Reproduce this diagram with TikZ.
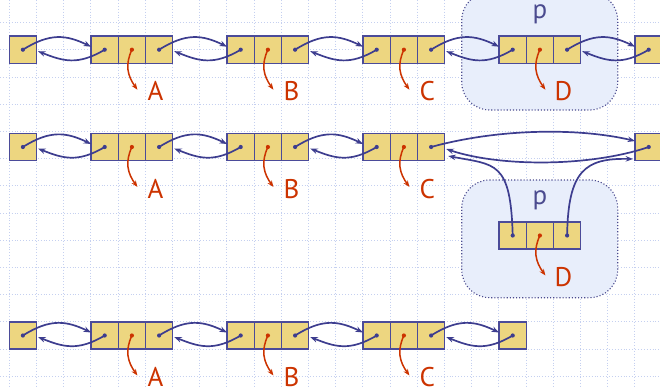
\documentclass[tikz,border=0pt]{standalone}
\usepackage{fontspec}
\setsansfont{PT Sans}
\usetikzlibrary{arrows.meta}
\definecolor{cellfill}{HTML}{EDD680}
\definecolor{cellborder}{HTML}{4B4B99}
\definecolor{linkc}{HTML}{3D3D8F}
\definecolor{redc}{HTML}{CC3300}
\definecolor{pfill}{HTML}{E8EEFB}
\definecolor{pborder}{HTML}{4B4B8F}
\definecolor{gridc}{HTML}{C5D0F0}
\newcommand{\tripcells}[4]{%
  \node[cellbox] (#1a) at (#2+13.6,#3) {};
  \node[cellbox] (#1b) at (#2+40.8,#3) {};
  \node[cellbox] (#1c) at (#2+68,#3) {};
  \fill[linkc] (#1a.center) circle (2.1pt);
  \fill[linkc] (#1c.center) circle (2.1pt);
  \fill[redc] (#1b.center) circle (2.1pt);
  \coordinate (#1tip) at ([shift={(5.5,40)}]#1b.center);
  \draw[redarrow] (#1b.center) .. controls +(-7,15) and +(-10,-14) .. (#1tip);
  \node[lbl, anchor=base] (#1lab) at ([shift={(23.5,51)}]#1b.center) {#4};
}
\newcommand{\onecell}[3]{%
  \node[cellbox] (#1) at (#2+13.6,#3) {};
  \fill[linkc] (#1.center) circle (2.1pt);
}
\newcommand{\fwdlink}[2]{\draw[linkarrow] (#1.center) .. controls +(27,-17) and +(-25,-12) .. ([yshift=3pt]#2.west);}
\newcommand{\bklink}[2]{\draw[linkarrow] (#2.center) .. controls +(-27,16) and +(25,10) .. ([xshift=1.5pt,yshift=-1.5pt]#1.east);}
\begin{document}
\begin{tikzpicture}[x=1pt,y=-1pt,
  cellbox/.style={draw=cellborder, fill=cellfill, line width=1.4pt, minimum size=27.2pt, inner sep=0pt, outer sep=0pt},
  linkarrow/.style={draw=linkc, line width=1.7pt, -{Stealth[length=7.5pt,width=5.5pt]}},
  redarrow/.style={draw=redc, line width=1.5pt, -{Stealth[length=6.5pt,width=5pt]}},
  lbl/.style={text=redc, font=\sffamily\fontsize{27}{30}\selectfont, inner sep=0pt},
  plbl/.style={text=pborder, font=\sffamily\fontsize{27}{30}\selectfont, inner sep=0pt, anchor=base},
  pbox/.style={draw=pborder, fill=pfill, line width=1.1pt, dotted, rounded corners=28pt, inner sep=0pt, outer sep=0pt},
  gridline/.style={draw=gridc, line width=0.9pt, dotted}]
\useasboundingbox (0,0) rectangle (660,388);
% grid
\foreach \k in {0,...,23} { \draw[gridline] (9.3+27.2*\k,0) -- (9.3+27.2*\k,388); }
\foreach \k in {0,...,13} { \draw[gridline] (0,22.7+27.2*\k) -- (660,22.7+27.2*\k); }
% p boxes
\node[pbox, minimum width=156pt, minimum height=117.7pt] (pboxA) at (539.7,51.15) {};
\node[pbox, minimum width=156pt, minimum height=117.7pt] (pboxB) at (539.7,238.85) {};
% row 1
\onecell{r1z}{9.3}{49.7}
\tripcells{r1A}{91.1}{49.7}{A}
\tripcells{r1B}{227.1}{49.7}{B}
\tripcells{r1C}{363.1}{49.7}{C}
\tripcells{r1D}{499.1}{49.7}{D}
\onecell{r1L}{635.1}{49.7}
\node[plbl] (r1p) at ([yshift=31pt]r1Db.center) {p};
\fwdlink{r1z}{r1Aa}\bklink{r1z}{r1Aa}
\fwdlink{r1Ac}{r1Ba}\bklink{r1Ac}{r1Ba}
\fwdlink{r1Bc}{r1Ca}\bklink{r1Bc}{r1Ca}
\fwdlink{r1Cc}{r1Da}\bklink{r1Cc}{r1Da}
\fwdlink{r1Dc}{r1L}\bklink{r1Dc}{r1L}
% row 2
\onecell{r2z}{9.3}{147}
\tripcells{r2A}{91.1}{147}{A}
\tripcells{r2B}{227.1}{147}{B}
\tripcells{r2C}{363.1}{147}{C}
\tripcells{r2D}{499.1}{235.5}{D}
\onecell{r2L}{635.1}{147}
\node[plbl] (r2p) at ([yshift=31pt]r2Db.center) {p};
\fwdlink{r2z}{r2Aa}\bklink{r2z}{r2Aa}
\fwdlink{r2Ac}{r2Ba}\bklink{r2Ac}{r2Ba}
\fwdlink{r2Bc}{r2Ca}\bklink{r2Bc}{r2Ca}
\draw[linkarrow] (r2Cc.center) .. controls +(69,-19) and +(-55,-13) .. ([yshift=6pt]r2L.west);
\draw[linkarrow] (r2L.center) .. controls +(-59,20) and +(54,18) .. ([xshift=1.5pt,yshift=-2pt]r2Cc.east);
\draw[linkarrow] (r2Da.center) .. controls +(-2,-75) and +(47,9) .. ([xshift=3.5pt,yshift=-9pt]r2Cc.east);
\draw[linkarrow] (r2Dc.center) .. controls +(1,-65) and +(-48,-1) .. ([xshift=-2pt,yshift=-12pt]r2L.west);
% row 3
\onecell{r3z}{9.3}{335.5}
\tripcells{r3A}{91.1}{335.5}{A}
\tripcells{r3B}{227.1}{335.5}{B}
\tripcells{r3C}{363.1}{335.5}{C}
\onecell{r3L}{499.1}{335.5}
\fwdlink{r3z}{r3Aa}\bklink{r3z}{r3Aa}
\fwdlink{r3Ac}{r3Ba}\bklink{r3Ac}{r3Ba}
\fwdlink{r3Bc}{r3Ca}\bklink{r3Bc}{r3Ca}
\fwdlink{r3Cc}{r3L}\bklink{r3Cc}{r3L}
\end{tikzpicture}
\end{document}
